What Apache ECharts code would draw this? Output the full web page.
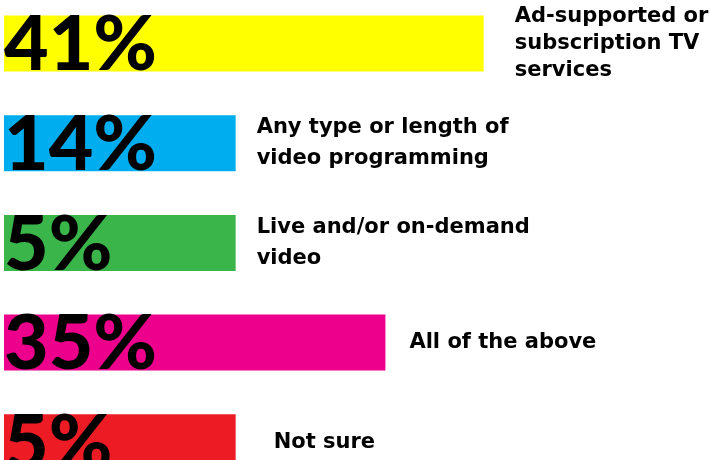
<!DOCTYPE html>
<html>
<head>
<meta charset="utf-8">
<style>
  html, body { margin: 0; padding: 0; background: #ffffff; }
  #chart { width: 710px; height: 460px; }
</style>
<script src="https://cdn.jsdelivr.net/npm/echarts@6/dist/echarts.min.js"></script>
</head>
<body>
<div id="chart"></div>
<script>
// ---- data ----
const categories = [
  'Ad-supported or\nsubscription TV\nservices',
  'Any type or length of\nvideo programming',
  'Live and/or on-demand\nvideo',
  'All of the above',
  'Not sure'
];
const percentLabels = ['41%', '14%', '5%', '35%', '5%'];
// bar lengths as drawn in the infographic (not to scale with the percentages)
const barLengths = [41, 19.8, 19.8, 32.6, 19.8];
const barColors = ['#FFFF00', '#00AEEF', '#3AB54A', '#EC008C', '#ED1C24'];

// ---- styling ----
const textGaps = [31, 21, 21, 24, 38];
const textLineHeights = [27, 31, 31, 31, 31];

function draw() {
  const chart = echarts.init(document.getElementById('chart'), null, { renderer: 'canvas' });
  chart.setOption({
    animation: false,
    backgroundColor: '#ffffff',
    grid: { left: 4, right: 4, top: 43.6, bottom: 17.8 },
    xAxis: { type: 'value', min: 0, max: 60, show: false },
    yAxis: { type: 'category', inverse: true, boundaryGap: false, data: categories, show: false },
    series: [
      {
        type: 'bar',
        barWidth: 56,
        data: barLengths.map((v, i) => ({
          value: v,
          itemStyle: { color: barColors[i] }
        })),
        label: {
          show: true,
          position: 'insideLeft',
          distance: 0,
          offset: [0, 2],
          formatter: p => percentLabels[p.dataIndex],
          fontFamily: 'Lato',
          fontWeight: 900,
          fontSize: 77,
          color: '#000000'
        },
        z: 2
      },
      {
        type: 'bar',
        barWidth: 56,
        barGap: '-100%',
        silent: true,
        itemStyle: { color: 'rgba(0,0,0,0)' },
        data: barLengths.map((v, i) => ({
          value: v,
          label: { distance: textGaps[i], lineHeight: textLineHeights[i] }
        })),
        label: {
          show: true,
          position: 'right',
          formatter: p => categories[p.dataIndex],
          fontFamily: 'DejaVu Sans',
          fontWeight: 'bold',
          fontSize: 21,
          color: '#000000',
          align: 'left'
        },
        z: 3
      }
    ]
  });
}

if (document.fonts && document.fonts.load) {
  Promise.all([
    document.fonts.load('900 77px Lato'),
    document.fonts.load('bold 77px Lato'),
    document.fonts.load('bold 21px "DejaVu Sans"')
  ]).then(draw, draw);
} else {
  draw();
}
</script>
</body>
</html>
